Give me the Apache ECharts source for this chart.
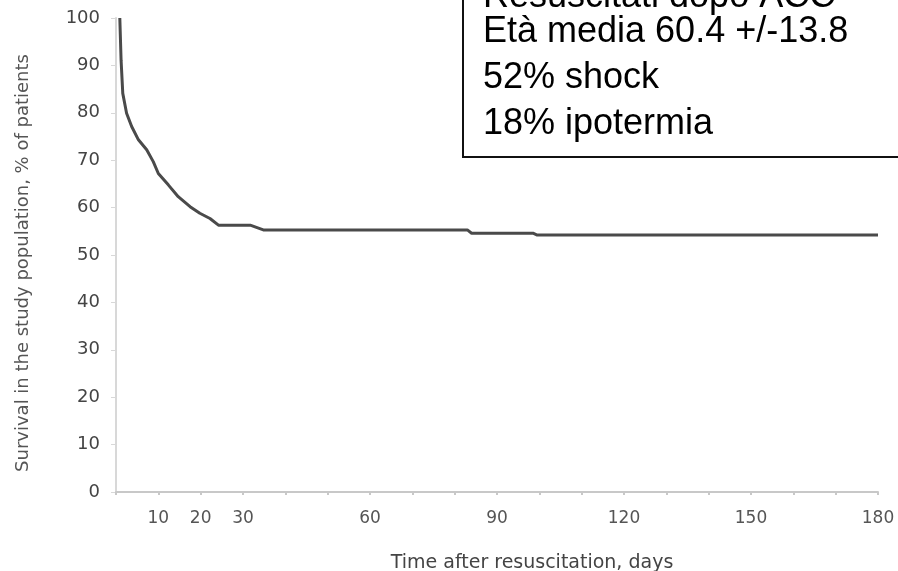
<!DOCTYPE html>
<html>
<head>
<meta charset="utf-8">
<script src="https://cdn.jsdelivr.net/npm/echarts@6/dist/echarts.min.js"></script>
<style>
  html, body { margin: 0; padding: 0; background: #fff; }
  #chart { width: 898px; height: 571px; }
</style>
</head>
<body>
<div id="chart"></div>
<script>
// giorni dopo la rianimazione / sopravvivenza %
var days = [0.9, 1.2, 1.6, 2.5, 3.7, 5.3, 7.25, 8.8, 10, 12.35, 14.7, 17.5, 19.8, 22.2, 24.2, 31.7, 34.8, 83, 84, 98.5, 99.5, 180];
var survival = [100, 91.1, 84.1, 79.9, 77.1, 74.3, 72.2, 69.7, 67.2, 64.8, 62.3, 60.2, 58.8, 57.7, 56.3, 56.3, 55.3, 55.3, 54.6, 54.6, 54.2, 54.2];
var xLabels = [10, 20, 30, 60, 90, 120, 150, 180];
var boxLines = ["Resuscitati dopo ACC", "Età media 60.4 +/-13.8", "52% shock", "18% ipotermia"];
var boxLineY = [-3, 32, 78, 124];

var chart = echarts.init(document.getElementById('chart'));

var points = [];
for (var i = 0; i < days.length; i++) {
	points.push([days[i], survival[i]]);
}

// riquadro testo in alto a destra
var boxChildren = [{
	type: 'rect',
	shape: { x: 463, y: -80, width: 500, height: 237 },
	style: { fill: '#fff', stroke: '#111', lineWidth: 2 }
}];
for (var j = 0; j < boxLines.length; j++) {
	boxChildren.push({
		type: 'text',
		style: {
			x: 483, y: boxLineY[j],
			text: boxLines[j],
			font: '36px "Liberation Sans", Arial, sans-serif',
			fill: '#000',
			verticalAlign: 'middle'
		}
	});
}

var option = {
	animation: false,
	grid: { left: 116, right: 20, top: 18, bottom: 79, containLabel: false, outerBoundsMode: 'none' },
	xAxis: {
		type: 'value',
		min: 0,
		max: 180,
		interval: 10,
		name: 'Time after resuscitation, days',
		nameLocation: 'middle',
		nameGap: 62,
		nameTextStyle: { fontFamily: 'DejaVu Sans', fontSize: 19, color: '#444', padding: [0, 0, 0, 70] },
		axisLine: { lineStyle: { color: '#c8c8c8', width: 2 } },
		axisTick: { length: 3, lineStyle: { color: '#c8c8c8', width: 2 } },
		splitLine: { show: false },
		axisLabel: {
			fontFamily: 'DejaVu Sans', fontSize: 17, color: '#555', margin: 18,
			formatter: function (v) { return xLabels.indexOf(v) >= 0 ? String(v) : ''; }
		}
	},
	yAxis: {
		type: 'value',
		min: 0,
		max: 100,
		interval: 10,
		name: 'Survival in the study population, % of patients',
		nameLocation: 'middle',
		nameGap: 84,
		nameTextStyle: { fontFamily: 'DejaVu Sans', fontSize: 18, color: '#555', padding: [0, 16, 0, 0] },
		axisLine: { show: true, lineStyle: { color: '#d8d8d8', width: 2 } },
		axisTick: { show: true, length: 5, lineStyle: { color: '#d8d8d8', width: 1 } },
		splitLine: { show: false },
		axisLabel: { fontFamily: 'DejaVu Sans', fontSize: 18, color: '#444', margin: 16 }
	},
	series: [{
		type: 'line',
		data: points,
		showSymbol: false,
		smooth: false,
		lineStyle: { color: '#4a4a4a', width: 3 }
	}],
	graphic: [{ type: 'group', children: boxChildren }]
};
chart.setOption(option);
</script>
</body>
</html>
